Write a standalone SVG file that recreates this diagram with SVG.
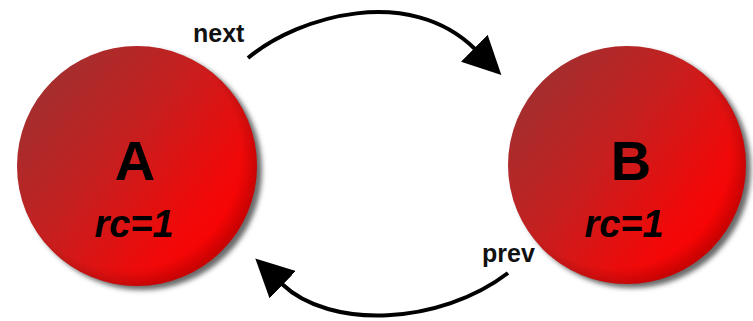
<svg xmlns="http://www.w3.org/2000/svg" width="753" height="321" viewBox="0 0 753 321">
  <defs>
    <linearGradient id="ball" x1="0.1" y1="0.1" x2="0.95" y2="0.8">
      <stop offset="0" stop-color="#a03030"/>
      <stop offset="0.4" stop-color="#c42020"/>
      <stop offset="0.8" stop-color="#f20808"/>
      <stop offset="1" stop-color="#ff0000"/>
    </linearGradient>
    <radialGradient id="rim" cx="0.45" cy="0.45" r="0.56">
      <stop offset="0.86" stop-color="#000" stop-opacity="0"/>
      <stop offset="1" stop-color="#000" stop-opacity="0.2"/>
    </radialGradient>
    <filter id="blur" x="-20%" y="-20%" width="140%" height="140%">
      <feGaussianBlur stdDeviation="2.5"/>
    </filter>
    <marker id="head" viewBox="0 0 38 38" refX="1" refY="19" markerWidth="38" markerHeight="38" markerUnits="userSpaceOnUse" orient="auto">
      <path d="M0,0 L38,19 L0,38 z" fill="#000"/>
    </marker>
  </defs>
  <style>
    .shadow { fill: #6a6a6a; filter: url(#blur); }
    .body { fill: url(#ball); }
    .rim { fill: url(#rim); }
    .big { font-family: "Liberation Sans", Arial, sans-serif; font-weight: bold; font-size: 56px; fill: #000; text-anchor: middle; }
    .rc { font-family: "Liberation Sans", Arial, sans-serif; font-weight: bold; font-style: italic; font-size: 38px; fill: #000; text-anchor: middle; }
    .lbl { font-family: "Liberation Sans", Arial, sans-serif; font-weight: bold; font-size: 25px; fill: #111; }
    .conn { fill: none; stroke: #000; stroke-width: 4; marker-end: url(#head); }
  </style>
  <rect width="753" height="321" fill="#fff"/>

  <g id="nodeA">
    <circle class="shadow" cx="142" cy="170" r="120"/>
    <circle class="body" cx="137" cy="166" r="120"/>
    <circle class="rim" cx="137" cy="166" r="120"/>
    <text class="big" x="135" y="180">A</text>
    <text class="rc" x="134" y="237">rc=1</text>
  </g>

  <g id="nodeB">
    <circle class="shadow" cx="632" cy="169" r="119"/>
    <circle class="body" cx="627" cy="165" r="119"/>
    <circle class="rim" cx="627" cy="165" r="119"/>
    <text class="big" x="631" y="180">B</text>
    <text class="rc" x="624" y="237">rc=1</text>
  </g>

  <g id="connectors">
    <path class="conn" d="M248,58 C300,15 410,-15 475,49"/>
    <text class="lbl" x="193" y="42">next</text>
    <path class="conn" d="M508,273 C440,325 330,330 282,284"/>
    <text class="lbl" x="482" y="262">prev</text>
  </g>
</svg>
